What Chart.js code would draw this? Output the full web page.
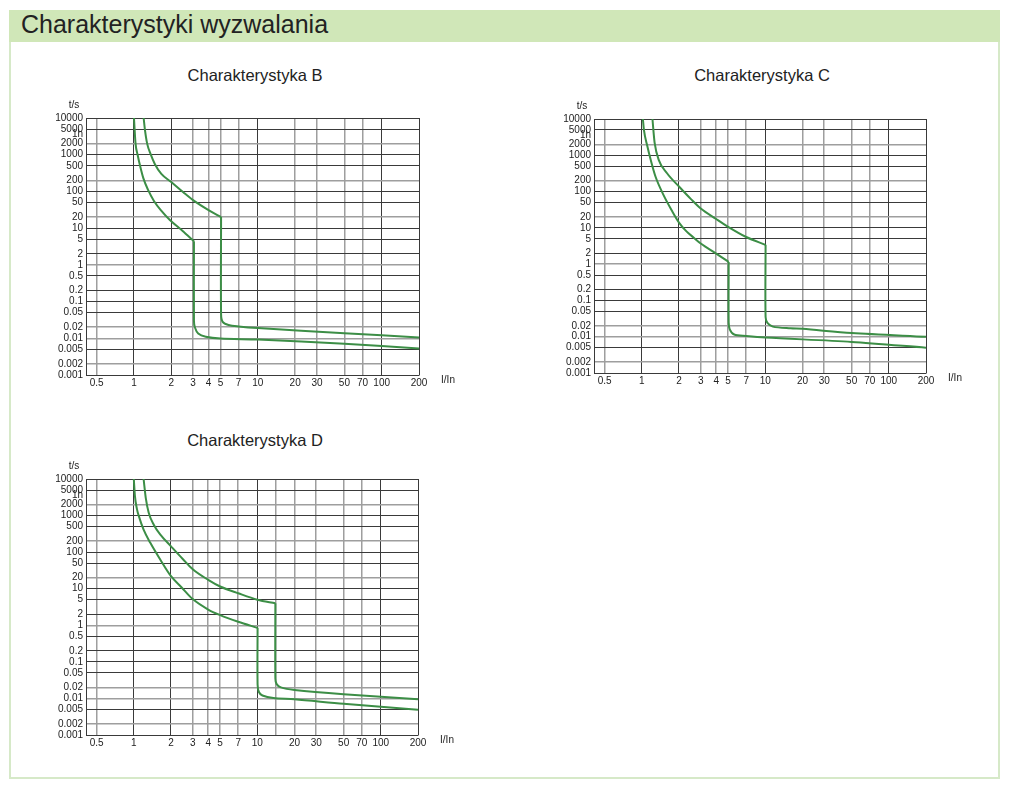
<!DOCTYPE html>
<html>
<head>
<meta charset="utf-8">
<title>Charakterystyki wyzwalania</title>
<script src="https://cdn.jsdelivr.net/npm/chart.js@4.4.0/dist/chart.umd.min.js"></script>
<style>
body { margin: 0; background: #fff; font-family: "Liberation Sans", Arial, sans-serif; }
#page { position: relative; width: 1012px; height: 798px; overflow: hidden; }
#header { position: absolute; left: 9px; top: 10px; width: 991px; height: 32px; background: #d0e7b8; }
#header span { position: absolute; left: 12px; top: 2px; font-size: 25px; line-height: 25px; color: #222; }
#frame { position: absolute; left: 9px; top: 42px; width: 987px; height: 735px; border: 2px solid #d6e9c8; border-top: none; }
.title { position: absolute; font-size: 16.5px; line-height: 18px; color: #222; transform: translateX(-50%); white-space: nowrap; }
canvas { position: absolute; }
</style>
</head>
<body>
<div id="page">
  <div id="header"><span>Charakterystyki wyzwalania</span></div>
  <div id="frame"></div>
  <div class="title" style="left:255px; top:66px;">Charakterystyka B</div>
  <div class="title" style="left:762px; top:66px;">Charakterystyka C</div>
  <div class="title" style="left:255px; top:431px;">Charakterystyka D</div>
  <canvas id="chartB" width="440" height="300" style="left:30px; top:95px;"></canvas>
  <canvas id="chartC" width="440" height="300" style="left:540px; top:97px;"></canvas>
  <canvas id="chartD" width="440" height="300" style="left:30px; top:457px;"></canvas>
</div>
<script>
// AXIS TICKS
const xTicks = [0.5, 1, 2, 3, 4, 5, 7, 10, 20, 30, 50, 70, 100, 200];
const yTicks = [10000, 5000, 3600, 2000, 1000, 500, 200, 100, 50, 20, 10, 5, 2, 1, 0.5, 0.2, 0.1, 0.05, 0.02, 0.01, 0.005, 0.002, 0.001];
const yLabels = ['10000', '5000', '1h', '2000', '1000', '500', '200', '100', '50', '20', '10', '5', '2', '1', '0.5', '0.2', '0.1', '0.05', '0.02', '0.01', '0.005', '0.002', '0.001'];

// CHARAKTERYSTYKA B  (I/In , t/s)
const bLowThermI = [1.0, 1.03, 1.07, 1.12, 1.19, 1.3, 1.45, 1.66, 1.94, 2.46, 3.05];
const bLowThermT = [10000, 2000, 1000, 500, 230, 110, 55, 30, 17, 8.5, 4.4];
const bLowMagI = [3.05, 3.05, 3.1, 3.3, 3.8, 5, 10, 50, 200];
const bLowMagT = [4.4, 0.03, 0.02, 0.0135, 0.011, 0.0098, 0.0092, 0.0071, 0.0053];
const bHighThermI = [1.197, 1.225, 1.278, 1.368, 1.473, 1.663, 2, 2.5, 3, 4, 5.05];
const bHighThermT = [10000, 4900, 2000, 1000, 560, 300, 180, 95, 58, 31, 20];
const bHighMagI = [5.05, 5.05, 5.2, 5.8, 7, 10, 50, 200];
const bHighMagT = [20, 0.045, 0.028, 0.023, 0.021, 0.019, 0.0138, 0.0105];

// CHARAKTERYSTYKA C
const cLowThermI = [1.02, 1.04, 1.11, 1.18, 1.29, 1.5, 1.75, 2, 2.3, 2.61, 3, 4, 5.05];
const cLowThermT = [10000, 5000, 1750, 750, 260, 80, 30, 14, 8, 5.5, 3.7, 1.95, 1.15];
const cLowMagI = [5.05, 5.05, 5.15, 5.6, 7, 10, 50, 200];
const cLowMagT = [1.15, 0.025, 0.016, 0.0115, 0.0105, 0.0095, 0.0072, 0.005];
const cHighThermI = [1.22, 1.24, 1.27, 1.37, 1.6, 2, 2.5, 3, 4, 5, 7, 10.05];
const cHighThermT = [10000, 5000, 2200, 750, 320, 138, 62, 34, 17.5, 10.7, 5.6, 3.4];
const cHighMagI = [10.05, 10.05, 10.4, 11.5, 16, 20, 50, 200];
const cHighMagT = [3.4, 0.035, 0.024, 0.019, 0.017, 0.0165, 0.0126, 0.01];

// CHARAKTERYSTYKA D
const dLowThermI = [1.0, 1.02, 1.06, 1.1, 1.2, 1.36, 1.64, 2, 2.43, 3, 4, 5, 7, 10.05];
const dLowThermT = [10000, 3500, 1500, 950, 410, 180, 62, 22, 11, 5.2, 2.7, 1.9, 1.25, 0.85];
const dLowMagI = [10.05, 10.05, 10.3, 11, 13.5, 20, 50, 200];
const dLowMagT = [0.85, 0.024, 0.015, 0.012, 0.0102, 0.0095, 0.0071, 0.0049];
const dHighThermI = [1.2, 1.25, 1.32, 1.45, 1.64, 2, 2.5, 3, 4, 5, 7, 10, 14];
const dHighThermT = [10000, 3000, 1200, 560, 300, 144, 64, 34, 17.5, 11.5, 7.5, 5, 4];
const dHighMagI = [14, 14, 14.3, 15.5, 20, 50, 200];
const dHighMagT = [4, 0.035, 0.025, 0.02, 0.017, 0.013, 0.0095];

const green = '#3c8e46';
const dark = '#3a3a3a';
const grey = '#9e9e9e';
const greyX = [0.5, 3, 4, 5, 7, 14, 20, 30, 50, 70];
const greyY = [2000, 200, 20, 1, 0.02, 0.01, 0.002];
const tickFont = { family: 'Liberation Sans', size: 10 };

function pts(I, T) {
    return I.map((v, i) => ({ x: v, y: T[i] }));
}

// t/s and I/In captions next to the axes
const axisCaptions = {
    id: 'axisCaptions',
    afterDraw(chart) {
        const a = chart.chartArea;
        const c = chart.ctx;
        c.save();
        c.font = '10px "Liberation Sans"';
        c.fillStyle = '#222';
        c.textAlign = 'center';
        c.textBaseline = 'middle';
        c.fillText('t/s', a.left - 12, a.top - 13);
        c.fillText('I/In', a.right + 29, a.bottom + 5);
        c.restore();
    }
};

function curve(I, T, smooth) {
    const ds = {
        data: pts(I, T),
        borderColor: green,
        borderWidth: 2,
        pointRadius: 0,
        fill: false
    };
    if (smooth) ds.cubicInterpolationMode = 'monotone';
    else ds.tension = 0.3;
    return ds;
}

function makeChart(id, box, datasets, extraX) {
    const xs = xTicks.concat(extraX).sort((p, q) => p - q);
    return new Chart(document.getElementById(id), {
        type: 'line',
        data: { datasets: datasets },
        options: {
            responsive: false,
            animation: false,
            layout: { padding: { top: box.top, right: box.right, bottom: 0, left: 0 } },
            plugins: { legend: { display: false }, tooltip: { enabled: false } },
            scales: {
                x: {
                    type: 'logarithmic',
                    min: 0.41,
                    max: 200,
                    afterBuildTicks: s => { s.ticks = xs.map(v => ({ value: v })); },
                    afterFit: s => { s.height = box.bottom; },
                    grid: {
                        drawTicks: false,
                        color: ctx => greyX.includes(ctx.tick.value) ? grey : dark,
                        lineWidth: ctx => greyX.includes(ctx.tick.value) ? 1.5 : 1
                    },
                    border: { color: dark, width: 1 },
                    ticks: {
                        autoSkip: false,
                        maxRotation: 0,
                        padding: 2,
                        color: '#222',
                        font: tickFont,
                        callback: v => xTicks.includes(v) ? String(v) : ''
                    }
                },
                y: {
                    type: 'logarithmic',
                    min: 0.001,
                    max: 10000,
                    afterBuildTicks: s => { s.ticks = yTicks.map(v => ({ value: v })); },
                    afterFit: s => { s.width = box.left; },
                    grid: {
                        drawTicks: false,
                        color: ctx => ctx.tick.value === 3600 ? 'rgba(0,0,0,0)' : greyY.includes(ctx.tick.value) ? grey : dark,
                        lineWidth: ctx => greyY.includes(ctx.tick.value) ? 1.5 : 1
                    },
                    border: { color: dark, width: 1 },
                    ticks: {
                        autoSkip: false,
                        padding: 3,
                        color: '#222',
                        font: tickFont,
                        callback: v => yLabels[yTicks.indexOf(v)]
                    }
                }
            }
        },
        plugins: [axisCaptions]
    });
}

makeChart('chartB', { left: 56, top: 23, right: 51, bottom: 20 }, [
    curve(bLowThermI, bLowThermT, true),
    curve(bLowMagI, bLowMagT, false),
    curve(bHighThermI, bHighThermT, true),
    curve(bHighMagI, bHighMagT, false)
], []);

makeChart('chartC', { left: 54, top: 22, right: 54, bottom: 24 }, [
    curve(cLowThermI, cLowThermT, true),
    curve(cLowMagI, cLowMagT, false),
    curve(cHighThermI, cHighThermT, true),
    curve(cHighMagI, cHighMagT, false)
], []);

makeChart('chartD', { left: 56, top: 22, right: 52, bottom: 22 }, [
    curve(dLowThermI, dLowThermT, true),
    curve(dLowMagI, dLowMagT, false),
    curve(dHighThermI, dHighThermT, true),
    curve(dHighMagI, dHighMagT, false)
], [14]);
</script>
</body>
</html>
